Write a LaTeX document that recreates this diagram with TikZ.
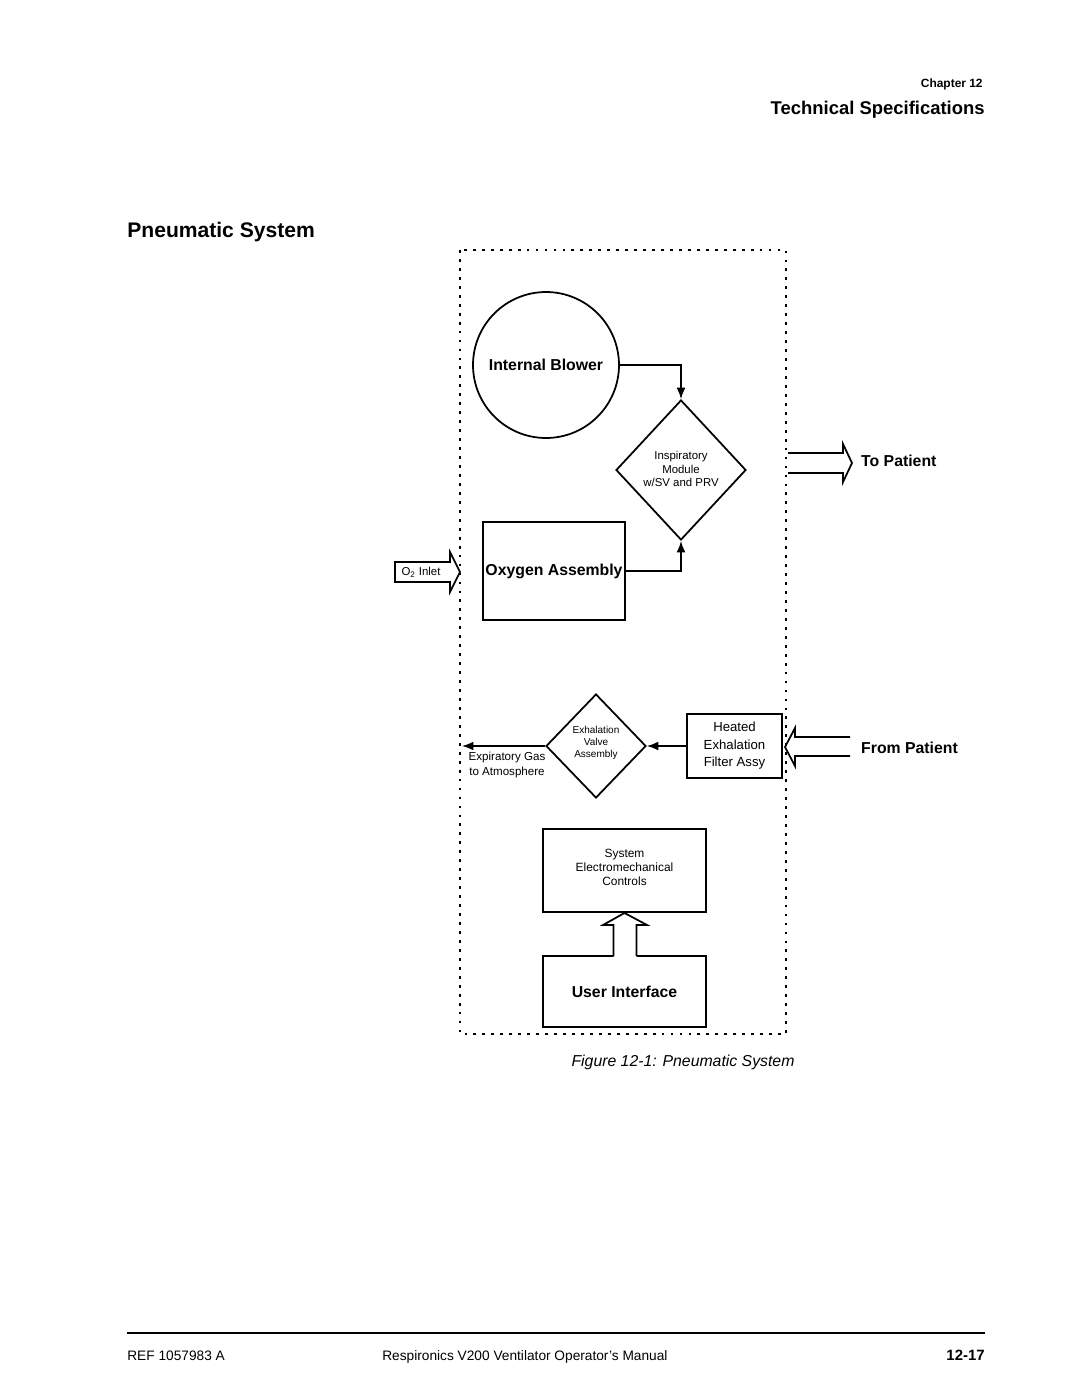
\documentclass[tikz,border=0pt]{standalone}
\usepackage{fontspec}
\setmainfont{Liberation Sans}
\usetikzlibrary{arrows.meta,shapes.geometric}
\begin{document}
\begin{tikzpicture}[x=0.02cm,y=-0.02cm,
  box/.style={draw,line width=1.1pt,inner sep=0pt},
  dia/.style={draw,diamond,line width=1pt,inner sep=0pt},
  conn/.style={line width=0.85pt,-{Latex[length=6.5pt,width=5pt]}},
  blk/.style={line width=1pt,line join=miter},
  boldlbl/.style={font=\fontsize{9}{10.8}\selectfont\bfseries},
  small/.style={font=\fontsize{6.5}{7.8}\selectfont,align=center},
  mid/.style={font=\fontsize{7.5}{10}\selectfont,align=center},
  frame/.style={line width=1.6pt,dash pattern=on 1.6pt off 3.5pt}]
\useasboundingbox (0,0) rectangle (1080,1397);

% headers
\node[anchor=east,inner sep=0pt,font=\fontsize{6.8}{8}\selectfont\bfseries] (chap) at (983,84) {Chapter 12};
\node[anchor=east,inner sep=0pt,font=\fontsize{10.5}{12}\selectfont\bfseries] (techspec) at (985,110) {Technical Specifications};
\node[anchor=west,font=\fontsize{12}{14}\selectfont\bfseries,inner sep=0pt] (title) at (127,232) {Pneumatic System};

% dotted enclosure
\draw[frame] (460,250) rectangle (786,1034);

% blocks
\node[draw,circle,line width=1pt,minimum size=2.92cm,inner sep=0pt,boldlbl] (blower) at (546,365) {Internal Blower};
\node[dia,minimum width=2.6cm,minimum height=2.8cm] (insp) at (681,470) {};
\node[small] (insptxt) at (681,469) {Inspiratory\\Module\\w/SV and PRV};
\node[box,minimum width=2.84cm,minimum height=1.96cm,boldlbl] (oxy) at (554,571) {Oxygen Assembly};

\node[dia,minimum width=2cm,minimum height=2.08cm] (exh) at (596,746) {};
\node[font=\fontsize{5.7}{7}\selectfont,align=center] (exhtxt) at (596,743) {Exhalation\\Valve\\Assembly};
\node[box,minimum width=1.9cm,minimum height=1.28cm,mid] (heated) at (734.5,746) {Heated\\Exhalation\\Filter Assy};

\node[box,minimum width=3.26cm,minimum height=1.66cm] (sec) at (624.5,870.5) {};
\node[align=center,font=\fontsize{6.8}{8}\selectfont] (sectxt) at (624.5,867) {System\\Electromechanical\\Controls};
\node[box,minimum width=3.26cm,minimum height=1.42cm,boldlbl] (ui) at (624.5,991.5) {User Interface};

% connectors
\draw[conn] (blower.east) -| (insp.north);
\draw[conn] (oxy.east) -| (insp.south);
\draw[conn] (heated.west) -- (exh.east);
\coordinate (atm) at (462,746);
\draw[conn] (exh.west) -- (atm);
\node[align=center,font=\fontsize{6.6}{8}\selectfont] (atmtxt) at (507,765) {Expiratory Gas\\to Atmosphere};

% O2 inlet block arrow
\coordinate (o2tip) at (460,572);
\draw[blk,fill=white] (395,562) -- (450,562) -- (450,552) -- (o2tip) -- (450,592) -- (450,582) -- (395,582) -- cycle;
\node[font=\fontsize{6.5}{8}\selectfont] (o2) at (421,572) {O\textsubscript{2} Inlet};

% To Patient arrow
\coordinate (totip) at (852,463);
\draw[blk] (788,453) -- (843,453) -- (843,444) -- (totip) -- (843,482) -- (843,473) -- (788,473);
\node[anchor=west,boldlbl] (topat) at (855,461) {To Patient};

% From Patient arrow
\coordinate (fromtip) at (785,747);
\draw[blk] (850,737) -- (795,737) -- (795,728) -- (fromtip) -- (795,766) -- (795,756) -- (850,756);
\node[anchor=west,boldlbl] (frompat) at (855,748) {From Patient};

% User interface to controls block arrow
\fill[white] (613.5,957) -- (613.5,925) -- (603,925) -- (sec.south) -- (647,925) -- (636.5,925) -- (636.5,957) -- cycle;
\draw[blk] (613.5,956) -- (613.5,925) -- (603,925) -- (sec.south) -- (647,925) -- (636.5,925) -- (636.5,956);

% caption
\node[font=\fontsize{9}{11}\selectfont\itshape] (caption) at (683,1062) {Figure 12-1: Pneumatic System};

% footer
\draw[line width=0.6pt] (127,1333) -- (985,1333);
\node[anchor=base west,inner sep=0pt,font=\fontsize{7.8}{9}\selectfont] (ref) at (127,1360) {REF 1057983 A};
\node[anchor=base west,inner sep=0pt,font=\fontsize{7.8}{9}\selectfont] (manual) at (382,1360) {Respironics V200 Ventilator Operator’s Manual};
\node[anchor=base east,inner sep=0pt,font=\fontsize{8.5}{9}\selectfont\bfseries] (page) at (985,1360) {12-17};
\end{tikzpicture}
\end{document}
